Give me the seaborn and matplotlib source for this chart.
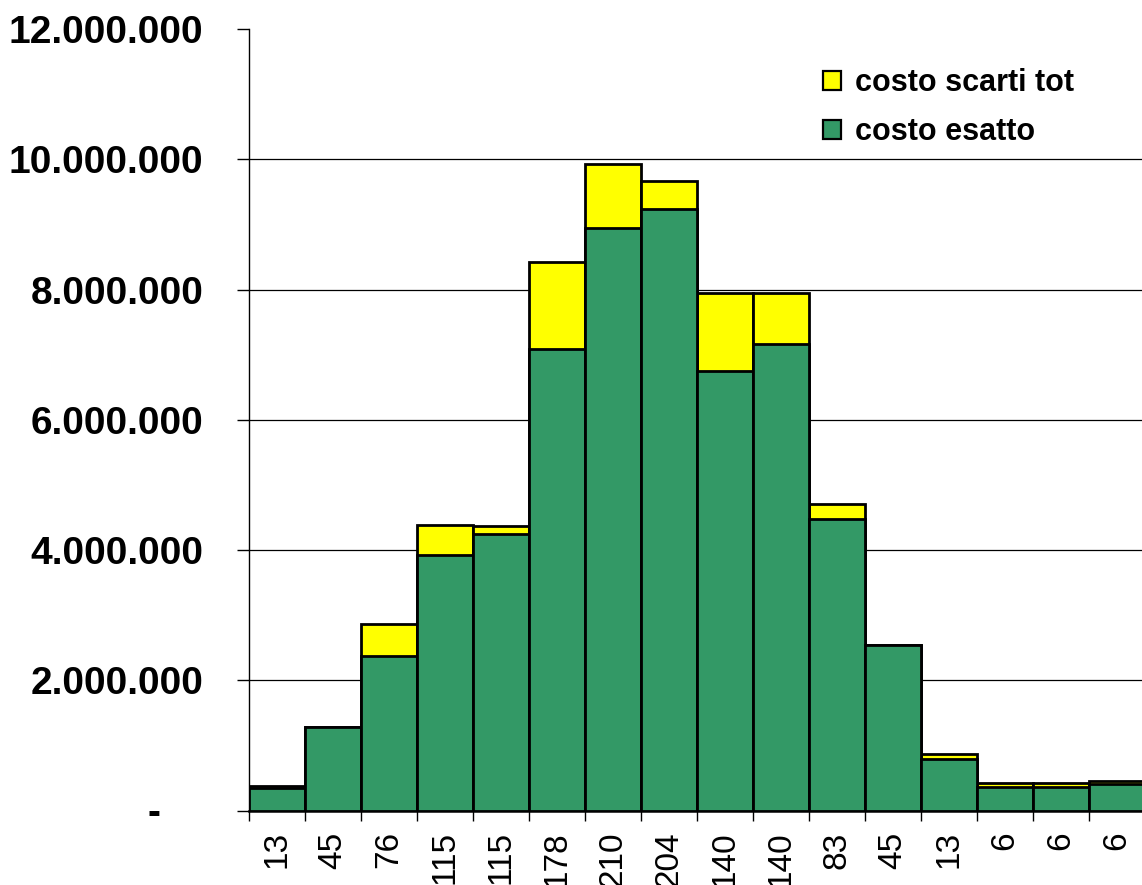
import matplotlib
matplotlib.use("Agg")
import matplotlib.pyplot as plt
import seaborn as sns
import pandas as pd
import numpy as np
from matplotlib.patches import Patch

# ---- data ----
labels = ["13", "45", "76", "115", "115", "178", "210", "204", "140", "140", "83", "45", "13", "6", "6", "6"]
costo_esatto = [340000, 1280000, 2380000, 3920000, 4240000, 7080000, 8950000, 9240000,
                6750000, 7160000, 4470000, 2545000, 785000, 365000, 365000, 400000]
costo_scarti = [40000, 0, 490000, 460000, 130000, 1340000, 970000, 420000,
                1190000, 780000, 230000, 0, 75000, 50000, 50000, 50000]
yticks = [0, 2000000, 4000000, 6000000, 8000000, 10000000, 12000000]
ytick_labels = ["-    ", "2.000.000", "4.000.000", "6.000.000", "8.000.000", "10.000.000", "12.000.000"]

GREEN = "#339966"
YELLOW = "#FFFF00"

sns.set_theme(style="white")
plt.rcParams["font.family"] = ["Liberation Sans", "DejaVu Sans"]
plt.rcParams["text.color"] = "black"
plt.rcParams["xtick.color"] = "black"
plt.rcParams["ytick.color"] = "black"
plt.rcParams["axes.labelcolor"] = "black"

pos = [str(i) for i in range(len(labels))]
df = pd.DataFrame({
    "pos": pos,
    "totale": np.array(costo_esatto) + np.array(costo_scarti),
    "esatto": costo_esatto,
})

fig = plt.figure(figsize=(11.42, 8.85), dpi=100)
ax = fig.add_axes([248.5 / 1142, 74.5 / 885, 896 / 1142, 781.5 / 885])

sns.barplot(data=df, x="pos", y="totale", order=pos, color=YELLOW, width=1.0,
            edgecolor="black", linewidth=2.0, saturation=1, ax=ax, zorder=3)
sns.barplot(data=df, x="pos", y="esatto", order=pos, color=GREEN, width=1.0,
            edgecolor="black", linewidth=2.0, saturation=1, ax=ax, zorder=4)

ax.set_ylim(0, 12000000)
ax.set_xlim(-0.5, len(labels) - 0.5)
ax.set_yticks(yticks)
ax.set_yticklabels(ytick_labels, fontsize=28, fontweight="bold")
ax.yaxis.grid(True, color="black", linewidth=0.9, zorder=0)
ax.set_axisbelow(True)

# category labels at centers (minor), tick marks at edges (major)
ax.set_xticks(np.arange(len(labels) + 1) - 0.5)
ax.set_xticklabels([""] * (len(labels) + 1))
ax.set_xticks(np.arange(len(labels)), minor=True)
ax.set_xticklabels(labels, minor=True, rotation=90, fontsize=24, va="top")
ax.tick_params(axis="x", which="major", bottom=True, length=7.2, width=1, color="black", direction="out")
ax.tick_params(axis="x", which="minor", bottom=True, length=0, pad=15)
ax.tick_params(axis="y", which="major", left=True, length=8.6, width=1, color="black", direction="out", pad=23.8)

fig.canvas.draw()
gl = ax.yaxis.get_gridlines()
gl[-1].set_visible(False)

ax.set_xlabel("")
ax.set_ylabel("")
for s in ["top", "right"]:
    ax.spines[s].set_visible(False)
for s in ["left", "bottom"]:
    ax.spines[s].set_color("black")
ax.spines["left"].set_linewidth(1.0)
ax.spines["bottom"].set_linewidth(1.8)

handles = [Patch(facecolor=YELLOW, edgecolor="black", linewidth=1.6, label="costo scarti tot"),
           Patch(facecolor=GREEN, edgecolor="black", linewidth=1.6, label="costo esatto")]
leg = ax.legend(handles=handles, loc="upper left", bbox_to_anchor=(0.61, 0.985), frameon=False,
                prop={"size": 22, "weight": "bold"}, handlelength=0.6, handleheight=0.6,
                handletextpad=0.45, labelspacing=0.62)

fig.savefig("out.png", dpi=100)
